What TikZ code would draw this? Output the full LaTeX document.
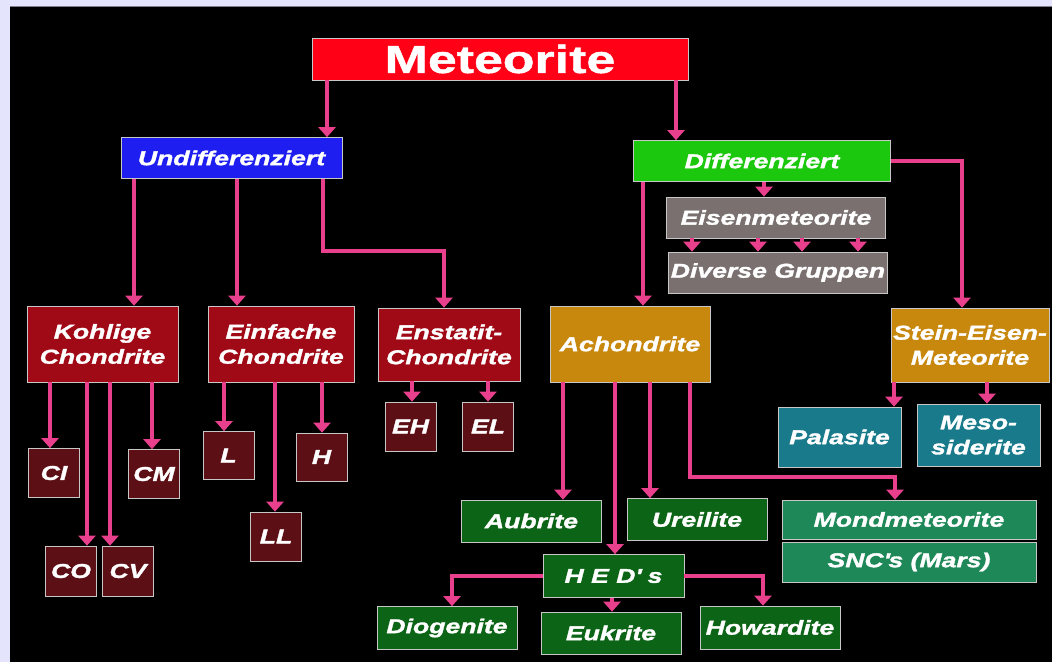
\documentclass[tikz,border=0pt]{standalone}
\usepackage{fontspec}
\setmainfont{Liberation Sans}[FakeStretch=1.33, BoldItalicFeatures={FakeBold=1.6}, BoldFeatures={FakeBold=1.2}]
\usepackage{tikz}
\usetikzlibrary{arrows.meta,calc,positioning}

\definecolor{rahmen}{RGB}{228,228,252}
\definecolor{meteorrot}{RGB}{255,0,22}
\definecolor{undiffblau}{RGB}{30,30,240}
\definecolor{diffgruen}{RGB}{28,200,14}
\definecolor{eisengrau}{RGB}{122,112,112}
\definecolor{chondrot}{RGB}{160,10,22}
\definecolor{klassrot}{RGB}{92,16,22}
\definecolor{achonbraun}{RGB}{200,136,14}
\definecolor{petrol}{RGB}{24,122,138}
\definecolor{dunkelgruen}{RGB}{12,100,22}
\definecolor{mondgruen}{RGB}{30,136,88}
\definecolor{pfeilrosa}{RGB}{232,64,140}

\tikzset{
  kasten/.style={draw=white!78!black, line width=0.7pt, text=white, align=center, inner sep=0pt,
    font=\fontsize{20}{25}\selectfont\bfseries\itshape},
  klein/.style={kasten, fill=klassrot, minimum width=51pt, minimum height=49pt},
  gruen/.style={kasten, fill=dunkelgruen, minimum width=140pt, minimum height=43pt},
  pfeil/.style={draw=pfeilrosa, line width=3.2pt, -{Triangle[width=17pt,length=10pt]}}
}

\begin{document}
\begin{tikzpicture}[x=1pt,y=-1pt]
%Hintergrund
\useasboundingbox[fill=rahmen] (0,0) rectangle (1052,662);
\fill[black] (10,6) rectangle (1052,662);
\draw[line width=1pt, black!45!rahmen] (10,6) -- (1052,6);
%Oberste Ebene
\node[kasten, fill=meteorrot, minimum width=376pt, minimum height=42pt,
  font=\fontsize{39}{39}\selectfont\bfseries] (meteor) at (500,59) {Meteorite};
\node[kasten, fill=undiffblau, minimum width=221pt, minimum height=41pt] (undiff) at (231.5,158) {Undifferenziert};
\node[kasten, fill=diffgruen, minimum width=257pt, minimum height=41pt] (diff) at (762,161) {Differenziert};
%Eisenmeteorite
\node[kasten, fill=eisengrau, minimum width=219pt, minimum height=41pt] (eisen) at (776,217.5) {Eisenmeteorite};
\node[kasten, fill=eisengrau, minimum width=219pt, minimum height=41pt] (gruppen) at (778,272.5) {Diverse Gruppen};
%Chondrite
\node[kasten, fill=chondrot, minimum width=151pt, minimum height=76pt] (kohlige) at (102.5,344) {Kohlige\\Chondrite};
\node[kasten, fill=chondrot, minimum width=146pt, minimum height=76pt] (einfach) at (281,344) {Einfache\\Chondrite};
\node[kasten, fill=chondrot, minimum width=142pt, minimum height=73pt] (enstatit) at (449,344.5) {Enstatit-\\Chondrite};
\node[kasten, fill=achonbraun, minimum width=160pt, minimum height=76pt] (achon) at (630,344) {Achondrite};
\node[kasten, fill=achonbraun, minimum width=158pt, minimum height=74pt] (steinE) at (970,345) {Stein-Eisen-\\Meteorite};
%Klassen
\node[klein] (ci) at (54,473) {CI};
\node[klein] (cm) at (154,474) {CM};
\node[klein, minimum height=50pt] (co) at (71,571) {CO};
\node[klein, minimum height=50pt] (cv) at (128,571) {CV};
\node[klein, minimum height=48pt] (l) at (228.5,455.5) {L};
\node[klein, minimum height=48pt] (h) at (321.5,457) {H};
\node[klein] (ll) at (276,536.5) {LL};
\node[klein] (eh) at (410.5,426.5) {EH};
\node[klein] (el) at (488,426.5) {EL};
%Achondrite und Stein-Eisen
\node[gruen, minimum height=42pt] (aubrite) at (531.5,521) {Aubrite};
\node[gruen, minimum height=42pt] (ureilite) at (697,519.5) {Ureilite};
\node[gruen, minimum width=141pt] (hed) at (613.5,576) {H E D\textquotesingle\ s};
\node[gruen] (dioge) at (447,628) {Diogenite};
\node[gruen, minimum height=42pt] (eukrite) at (611,633) {Eukrite};
\node[gruen] (howard) at (770,627.5) {Howardite};
\node[kasten, fill=mondgruen, minimum width=254pt, minimum height=39pt] (mond) at (909,519.5) {Mondmeteorite};
\node[kasten, fill=mondgruen, minimum width=254pt, minimum height=40pt] (snc) at (909,562) {SNC\textquotesingle s (Mars)};
\node[kasten, fill=petrol, minimum width=123pt, minimum height=60pt] (palasit) at (839.5,437) {Palasite};
\node[kasten, fill=petrol, minimum width=123pt, minimum height=62pt] (meso) at (978.5,435) {Meso-\\siderite};
%Pfeile
\draw[pfeil] (meteor.south -| 327,0) -- (undiff.north -| 327,0);
\draw[pfeil] (meteor.south -| 676,0) -- (diff.north -| 676,0);
\draw[pfeil] (undiff.south -| 134,0) -- (kohlige.north -| 134,0);
\draw[pfeil] (undiff.south -| 237,0) -- (einfach.north -| 237,0);
\draw[pfeil] (undiff.south -| 323,0) -- (323,251) -| (enstatit.north -| 444,0);
\draw[pfeil] (diff.south -| 764,0) -- (eisen.north -| 764,0);
\foreach \x in {692,758,802,858}
  \draw[pfeil] (eisen.south -| \x,0) -- (gruppen.north -| \x,0);
\draw[pfeil] (diff.south -| 643,0) -- (achon.north -| 643,0);
\draw[pfeil] (diff.east) -| (steinE.north -| 962,0);
\foreach \x/\ziel in {50/ci,87/co,110/cv,152/cm}
  \draw[pfeil] (kohlige.south -| \x,0) -- (\ziel.north -| \x,0);
\foreach \x/\ziel in {224/l,275/ll,322/h}
  \draw[pfeil] (einfach.south -| \x,0) -- (\ziel.north -| \x,0);
\foreach \x/\ziel in {412/eh,488/el}
  \draw[pfeil] (enstatit.south -| \x,0) -- (\ziel.north -| \x,0);
\foreach \x/\ziel in {563/aubrite,615/hed,650/ureilite}
  \draw[pfeil] (achon.south -| \x,0) -- (\ziel.north -| \x,0);
\draw[pfeil] (achon.south -| 690,0) -- (690,477) -| (mond.north -| 895,0);
\draw[pfeil] (hed.west) -| (dioge.north -| 452,0);
\draw[pfeil] (hed.south -| 612,0) -- (eukrite.north -| 612,0);
\draw[pfeil] (hed.east) -| (howard.north -| 763,0);
\draw[pfeil] (steinE.south -| 894,0) -- (palasit.north -| 894,0);
\draw[pfeil] (steinE.south -| 987,0) -- (meso.north -| 987,0);
\end{tikzpicture}
\end{document}
